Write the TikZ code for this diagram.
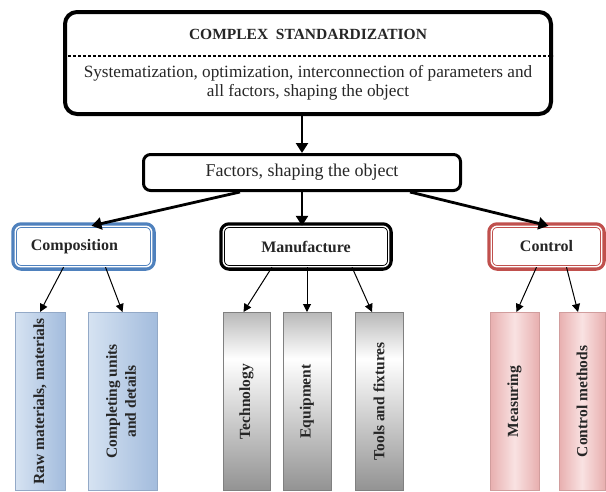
\documentclass[tikz,border=0pt]{standalone}
\usepackage{fontspec}
\setmainfont{Liberation Serif}
\usepackage{graphicx}
\usetikzlibrary{arrows.meta}
\definecolor{compblue}{HTML}{4F81BD}
\definecolor{ctrlred}{HTML}{C0504D}
\definecolor{blueL}{HTML}{D6E3F2}
\definecolor{blueD}{HTML}{A3BCDD}
\definecolor{redL}{HTML}{F9E2E2}
\definecolor{redD}{HTML}{E8AFAF}
\pgfdeclareverticalshading{grayfade}{100bp}{color(0bp)=(gray!85); color(25bp)=(gray!85); color(62bp)=(white); color(75bp)=(gray!55!white); color(100bp)=(gray!55!white)}
\newcommand{\bodyfont}{\fontsize{17.2}{19.5}\selectfont}

\begin{document}
\begin{tikzpicture}[x=1pt,y=-1pt,
    txt/.style={font=\bodyfont, text=black!85},
    mainbox/.style={draw, rounded corners=12pt, line width=4pt, fill=white},
    facbox/.style={draw, rounded corners=7pt, line width=3pt, fill=white},
    catbox/.style={draw=#1, fill=white, rounded corners=6pt, line width=0.9pt,
        double=white, double distance=1.4pt,
        preaction={draw=#1, line width=8pt},
        minimum height=40.5pt, font=\bfseries\fontsize{16}{19}\selectfont, text=black!85},
    bar/.style={minimum height=178pt, inner sep=0pt, anchor=north,
        line width=0.8pt, font=\bfseries\fontsize{15.5}{19}\selectfont, text=black!85},
    bluebar/.style={bar, draw=blueD!90!black, left color=blueL, right color=blueD},
    graybar/.style={bar, draw=gray, shading=grayfade},
    redbar/.style={bar, draw=redD!90!black, left color=redD, right color=redD, middle color=redL},
    bigarrow/.style={line width=2.8pt, -{Triangle[length=10pt,width=12pt]}},
    smallarrow/.style={line width=1pt, -{Triangle[length=8pt,width=8pt]}}]
    \useasboundingbox (0,0) rectangle (606,491);

    % top block
    \node[mainbox, minimum width=486pt, minimum height=102pt] (cstd) at (308,63) {};
    \node[txt, font=\bfseries\fontsize{15.5}{18}\selectfont] (title) at (308,34) {COMPLEX\ \ STANDARDIZATION};
    \draw[line width=2.5pt, dash pattern=on 2.5pt off 2.5pt] (cstd.west |- 0,56) -- (cstd.east |- 0,56);
    \node[txt, align=center] (sysopt) at (308,83) {Systematization, optimization, interconnection of parameters and\\all factors, shaping the object};

    \node[facbox, txt, font=\fontsize{18}{20}\selectfont, minimum width=317pt, minimum height=36pt] (fac) at (302,172.5) {Factors, shaping the object};
    \draw[bigarrow] (fac.north |- cstd.south) -- (fac.north);

    % three groups
    \node[catbox=compblue, minimum width=136.5pt] (comp) at (83.5,246.5) {\hspace{-18pt}Composition};
    \node[catbox=black, minimum width=165.5pt] (manu) at (306,246.5) {Manufacture};
    \node[catbox=ctrlred, minimum width=110.5pt] (ctrl) at (546.5,246.5) {Control};

    \draw[bigarrow] ([xshift=-62pt]fac.south) -- ([xshift=8pt]comp.north);
    \draw[bigarrow] (fac.south) -- (fac.south |- manu.north);
    \draw[bigarrow] ([xshift=108pt]fac.south) -- ([xshift=2pt]ctrl.north);

    % bars
    \node[bluebar, minimum width=50pt] (raw) at (40,312) {\rotatebox{90}{Raw materials, materials}};
    \node[bluebar, minimum width=69pt] (compl) at (122.5,312) {\rotatebox{90}{\begin{tabular}{@{}c@{}}Completing units\\and details\end{tabular}}};
    \node[graybar, minimum width=47pt] (tech) at (246.5,312) {\rotatebox{90}{Technology}};
    \node[graybar, minimum width=48pt] (equip) at (307,312) {\rotatebox{90}{Equipment}};
    \node[graybar, minimum width=48pt] (tools) at (379,312) {\rotatebox{90}{Tools and fixtures}};
    \node[redbar, minimum width=49pt] (meas) at (514.5,312) {\rotatebox{90}{Measuring}};
    \node[redbar, minimum width=46pt] (cmeth) at (582,312) {\rotatebox{90}{Control methods}};

    \draw[smallarrow] ([xshift=-20pt]comp.south) -- (raw.north);
    \draw[smallarrow] ([xshift=22pt]comp.south) -- (compl.north);
    \draw[smallarrow] ([xshift=-34pt]manu.south) -- ([xshift=-3pt]tech.north);
    \draw[smallarrow] (equip.north |- manu.south) -- (equip.north);
    \draw[smallarrow] ([xshift=46pt]manu.south) -- ([xshift=-7pt]tools.north);
    \draw[smallarrow] ([xshift=-10pt]ctrl.south) -- ([xshift=2pt]meas.north);
    \draw[smallarrow] ([xshift=20pt]ctrl.south) -- ([xshift=-4pt]cmeth.north);
\end{tikzpicture}
\end{document}
